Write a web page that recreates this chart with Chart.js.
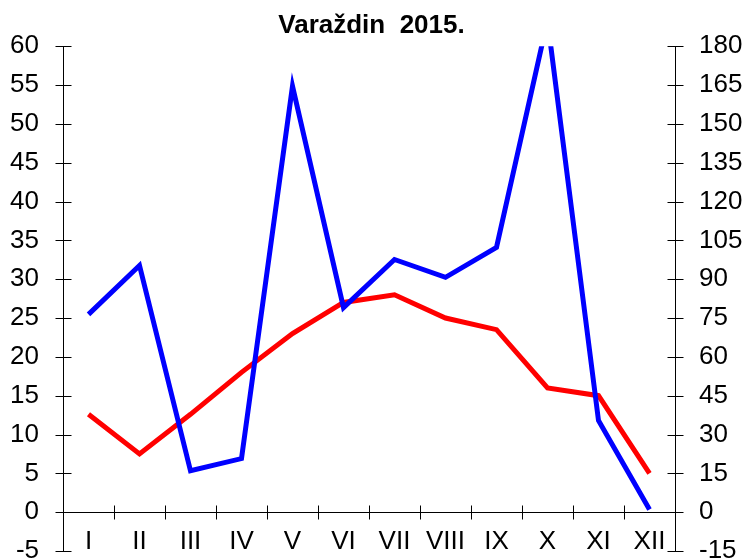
<!DOCTYPE html>
<html>
<head>
<meta charset="utf-8">
<script src="https://cdn.jsdelivr.net/npm/chart.js@4.4.1/dist/chart.umd.min.js"></script>
<style>
  html, body { margin: 0; padding: 0; background: #fff; }
  #wrap { width: 743px; height: 559px; }
</style>
</head>
<body>
<div id="wrap"><canvas id="c" width="743" height="559"></canvas></div>
<script>
const titleText = "Varaždin  2015.";
const months = ["I", "II", "III", "IV", "V", "VI", "VII", "VIII", "IX", "X", "XI", "XII"];
const temperature = [12.6, 7.5, 12.6, 18, 23, 27, 28, 25, 23.5, 16, 15, 5];
const precipitation = [76.4, 95.3, 16, 20.7, 164.6, 79, 97.6, 90.7, 102.3, 190, 35.4, 1];
const leftTicks = { min: -5, max: 60, step: 5 };
const rightTicks = { min: -15, max: 180, step: 15 };

const tickFont = { family: "'Liberation Sans', Arial, sans-serif", size: 26, lineHeight: 1 };

const axisPlugin = {
  id: 'crossAxes',
  beforeDatasetsDraw(chart) {
    const ctx = chart.ctx;
    const x = chart.scales.x, yl = chart.scales.y, yr = chart.scales.y1;
    const area = chart.chartArea;
    ctx.save();
    ctx.strokeStyle = '#000';
    ctx.lineWidth = 1;
    ctx.beginPath();
    const lx = Math.round(area.left) + 0.5;
    ctx.moveTo(lx, area.top); ctx.lineTo(lx, area.bottom);
    yl.ticks.forEach(t => {
      const py = Math.round(yl.getPixelForValue(t.value)) + 0.5;
      ctx.moveTo(lx - 8, py); ctx.lineTo(lx + 8, py);
    });
    const rx = Math.round(area.right) + 0.5;
    ctx.moveTo(rx, area.top); ctx.lineTo(rx, area.bottom);
    yr.ticks.forEach(t => {
      const py = Math.round(yr.getPixelForValue(t.value)) + 0.5;
      ctx.moveTo(rx - 8, py); ctx.lineTo(rx + 8, py);
    });
    const zy = Math.round(yl.getPixelForValue(0)) + 0.5;
    ctx.moveTo(area.left, zy); ctx.lineTo(area.right, zy);
    for (let i = 1; i < months.length; i++) {
      const bx = Math.round((x.getPixelForValue(i - 1) + x.getPixelForValue(i)) / 2) + 0.5;
      ctx.moveTo(bx, zy - 7); ctx.lineTo(bx, zy + 7);
    }
    ctx.stroke();
    ctx.restore();
  }
};

new Chart(document.getElementById('c'), {
  type: 'line',
  data: {
    labels: months,
    datasets: [
      {
        label: 'Oborine',
        data: precipitation,
        yAxisID: 'y1',
        borderColor: '#0000FF',
        backgroundColor: '#0000FF',
        borderWidth: 5,
        pointRadius: 0,
        tension: 0,
        clip: 0
      },
      {
        label: 'Temperatura',
        data: temperature,
        yAxisID: 'y',
        borderColor: '#FF0000',
        backgroundColor: '#FF0000',
        borderWidth: 5,
        pointRadius: 0,
        tension: 0,
        clip: 0
      }
    ]
  },
  options: {
    responsive: false,
    animation: false,
    events: [],
    layout: { padding: { left: 0, right: 0, top: 0, bottom: 8 } },
    plugins: {
      legend: { display: false },
      tooltip: { enabled: false },
      title: {
        display: true,
        text: titleText,
        color: '#000',
        font: { family: "'Liberation Sans', Arial, sans-serif", size: 26, weight: 'bold', lineHeight: 1.2 },
        padding: { top: 10, bottom: 5 }
      }
    },
    scales: {
      x: {
        type: 'category',
        position: { y: 0 },
        offset: true,
        border: { display: false },
        grid: { display: false, drawTicks: false, offset: true },
        ticks: { color: '#000', font: tickFont, padding: 17, maxRotation: 0, autoSkip: false },
        afterFit(s) { s.height = 0; }
      },
      y: {
        position: 'left',
        min: leftTicks.min,
        max: leftTicks.max,
        border: { display: false },
        grid: { display: false, drawTicks: false },
        ticks: { stepSize: leftTicks.step, color: '#000', font: tickFont, padding: 24 },
        afterFit(s) { s.width = 63; s.paddingTop = 0; s.paddingBottom = 8; }
      },
      y1: {
        position: 'right',
        min: rightTicks.min,
        max: rightTicks.max,
        border: { display: false },
        grid: { display: false, drawTicks: false },
        ticks: { stepSize: rightTicks.step, color: '#000', font: tickFont, padding: 24 },
        afterFit(s) { s.width = 68; s.paddingTop = 0; s.paddingBottom = 8; }
      }
    }
  },
  plugins: [axisPlugin]
});
</script>
</body>
</html>
